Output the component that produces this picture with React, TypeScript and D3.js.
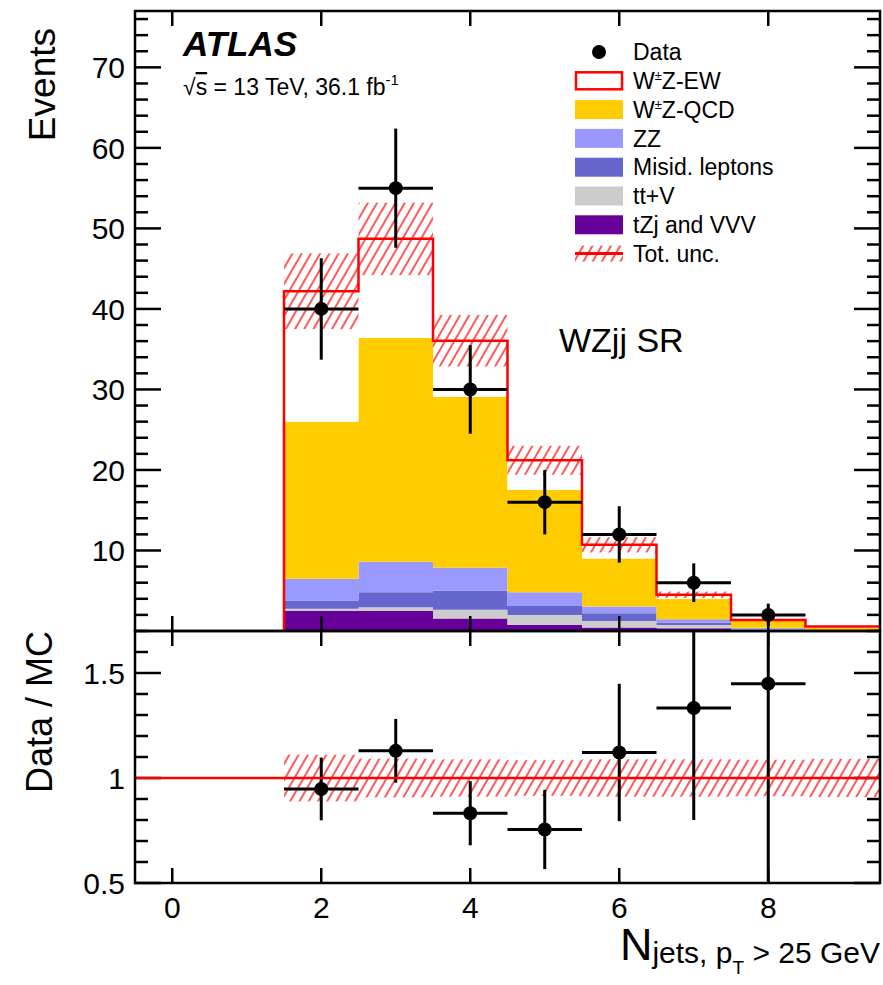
import React from "react";
import * as d3 from "d3";

// bins of N_jets (width 1), centres
const binCenters = [2, 3, 4, 5, 6, 7, 8, 9];
// stacked backgrounds, bottom -> top
const tZjVVV = [2.5, 2.5, 1.55, 0.75, 0.45, 0.35, 0.1, 0.03];
const ttV = [0.25, 0.45, 1.1, 1.25, 0.8, 0.4, 0.12, 0.04];
const misid = [1.05, 1.85, 2.35, 1.1, 0.95, 0.3, 0.08, 0.03];
const zz = [2.7, 3.8, 2.85, 1.7, 0.85, 0.4, 0.1, 0.04];
const wzQCD = [19.5, 27.8, 21.2, 12.7, 5.95, 2.55, 0.85, 0.26];
const wzEW = [16.2, 12.3, 7.0, 3.7, 1.7, 0.5, 0.13, 0.15];
const totUnc = [4.7, 4.5, 3.2, 1.8, 0.95, 0.4, 0.12, 0.05];

// data
const dataX = [2, 3, 4, 5, 6, 7, 8];
const dataY = [40, 55, 30, 16, 12, 6, 2];
const dataErr = [6.3, 7.4, 5.5, 4.0, 3.5, 2.4, 1.4];

// ticks
const topYTicks = [10, 20, 30, 40, 50, 60, 70];
const ratioYTicks = [0.5, 1, 1.5];
const xTicks = [0, 2, 4, 6, 8];

const keys = ["tZjVVV", "ttV", "misid", "zz", "wzQCD", "wzEW"];
const colors: Record<string, string> = {
  tZjVVV: "#660099",
  ttV: "#cccccc",
  misid: "#6666cc",
  zz: "#9999ff",
  wzQCD: "#ffcc00",
  wzEW: "#ffffff",
};

const FONT = "'Liberation Sans', Arial, Helvetica, sans-serif";
const W = 883, H = 985;
const L = 135, R = 880, T = 11, MID = 631, B = 883;

export default function App() {
  const x = d3.scaleLinear().domain([-0.5, 9.5]).range([L, R]);
  const y = d3.scaleLinear().domain([0, 77]).range([MID, T]);
  const yr = d3.scaleLinear().domain([0.5, 1.7]).range([B, MID]);

  const rows = binCenters.map((c, i) => ({
    c,
    tZjVVV: tZjVVV[i],
    ttV: ttV[i],
    misid: misid[i],
    zz: zz[i],
    wzQCD: wzQCD[i],
    wzEW: wzEW[i],
  }));
  const series = d3.stack<any>().keys(keys)(rows);
  const total = rows.map((_, i) => series[series.length - 1][i][1]);

  const area = d3
    .area<number[]>()
    .x((d) => x(d[0]))
    .y0((d) => y(d[1]))
    .y1((d) => y(d[2]));
  const stepPts = (lo: number[], hi: number[]) =>
    binCenters.flatMap((c, i) => [
      [c - 0.5, lo[i], hi[i]],
      [c + 0.5, lo[i], hi[i]],
    ]);

  const outline = d3
    .line<number[]>()
    .x((d) => x(d[0]))
    .y((d) => y(d[1]))([
    [binCenters[0] - 0.5, 0],
    ...binCenters.flatMap((c, i) => [
      [c - 0.5, total[i]],
      [c + 0.5, total[i]],
    ]),
  ]);

  const yMinor = d3.range(2, 77, 2).filter((v) => v % 10 !== 0);
  const rMinor = d3.range(5, 18).map((v) => v / 10).filter((v) => Math.round(v * 10) % 5 !== 0);

  const legend = [
    { label: "Data", kind: "data" },
    { label: "W±Z-EW", kind: "ew" },
    { label: "W±Z-QCD", kind: "box", color: colors.wzQCD },
    { label: "ZZ", kind: "box", color: colors.zz },
    { label: "Misid. leptons", kind: "box", color: colors.misid },
    { label: "tt+V", kind: "box", color: colors.ttV },
    { label: "tZj and VVV", kind: "box", color: colors.tZjVVV },
    { label: "Tot. unc.", kind: "unc" },
  ];

  const tk = { stroke: "#000", strokeWidth: 2.5 };

  return (
    <div style={{ position: "absolute", left: 0, top: 0 }}>
      <svg width={W} height={H} style={{ display: "block", fontFamily: FONT }}>
        <defs>
          <pattern id="hatch" patternUnits="userSpaceOnUse" width="8" height="8" patternTransform="rotate(30)">
            <line x1="4" y1="0" x2="4" y2="8" stroke="#ff0000" strokeWidth="1.3" />
          </pattern>
          <clipPath id="ratioClip">
            <rect x={L} y={MID} width={R - L} height={B - MID} />
          </clipPath>
        </defs>
        <rect width={W} height={H} fill="#fff" />

        {/* stacked histograms */}
        {series.map((s) => (
          <path
            key={s.key}
            d={area(stepPts(s.map((d) => d[0]), s.map((d) => d[1]))) || ""}
            fill={colors[s.key]}
          />
        ))}
        {/* uncertainty band */}
        {binCenters.map((c, i) => (
          <rect
            key={"u" + c}
            x={x(c - 0.5)}
            y={y(total[i] + totUnc[i])}
            width={x(c + 0.5) - x(c - 0.5)}
            height={y(total[i] - totUnc[i]) - y(total[i] + totUnc[i])}
            fill="url(#hatch)"
          />
        ))}
        <path d={outline || ""} fill="none" stroke="#ff0000" strokeWidth={2.5} />

        {/* data */}
        {dataX.map((c, i) => (
          <g key={"d" + c}>
            <line x1={x(c - 0.5)} x2={x(c + 0.5)} y1={y(dataY[i])} y2={y(dataY[i])} stroke="#000" strokeWidth={3} />
            <line x1={x(c)} x2={x(c)} y1={y(dataY[i] - dataErr[i])} y2={y(dataY[i] + dataErr[i])} stroke="#000" strokeWidth={3} />
            <circle cx={x(c)} cy={y(dataY[i])} r={7} fill="#000" />
          </g>
        ))}

        {/* ratio panel */}
        <g clipPath="url(#ratioClip)">
          {binCenters.map((c, i) => (
            <rect
              key={"ru" + c}
              x={x(c - 0.5)}
              y={yr(1 + totUnc[i] / total[i])}
              width={x(c + 0.5) - x(c - 0.5)}
              height={yr(1 - totUnc[i] / total[i]) - yr(1 + totUnc[i] / total[i])}
              fill="url(#hatch)"
            />
          ))}
          {dataX.map((c, i) => {
            const tot = total[binCenters.indexOf(c)];
            const r = dataY[i] / tot;
            const e = dataErr[i] / tot;
            return (
              <g key={"r" + c}>
                <line x1={x(c - 0.5)} x2={x(c + 0.5)} y1={yr(r)} y2={yr(r)} stroke="#000" strokeWidth={3} />
                <line x1={x(c)} x2={x(c)} y1={yr(r - e)} y2={yr(r + e)} stroke="#000" strokeWidth={3} />
                <circle cx={x(c)} cy={yr(r)} r={7} fill="#000" />
              </g>
            );
          })}
        </g>

        {/* ticks */}
        {topYTicks.map((v) => (
          <g key={"ty" + v}>
            <line x1={L} x2={L + 26} y1={y(v)} y2={y(v)} {...tk} />
            <line x1={R - 26} x2={R} y1={y(v)} y2={y(v)} {...tk} />
            <text x={125} y={y(v)} dy="0.36em" textAnchor="end" fontSize={30}>{v}</text>
          </g>
        ))}
        {yMinor.map((v) => (
          <g key={"tym" + v}>
            <line x1={L} x2={L + 13} y1={y(v)} y2={y(v)} {...tk} />
            <line x1={R - 13} x2={R} y1={y(v)} y2={y(v)} {...tk} />
          </g>
        ))}
        {ratioYTicks.map((v) => (
          <g key={"ry" + v}>
            <line x1={L} x2={L + 26} y1={yr(v)} y2={yr(v)} {...tk} />
            <line x1={R - 26} x2={R} y1={yr(v)} y2={yr(v)} {...tk} />
            <text x={125} y={yr(v)} dy="0.36em" textAnchor="end" fontSize={30}>{v}</text>
          </g>
        ))}
        {rMinor.map((v) => (
          <g key={"rym" + v}>
            <line x1={L} x2={L + 13} y1={yr(v)} y2={yr(v)} {...tk} />
            <line x1={R - 13} x2={R} y1={yr(v)} y2={yr(v)} {...tk} />
          </g>
        ))}
        {xTicks.map((v) => (
          <g key={"x" + v}>
            <line x1={x(v)} x2={x(v)} y1={T} y2={T + 15} {...tk} />
            <line x1={x(v)} x2={x(v)} y1={MID - 15} y2={MID + 15} {...tk} />
            <line x1={x(v)} x2={x(v)} y1={B - 15} y2={B} {...tk} />
            <text x={x(v)} y={918} textAnchor="middle" fontSize={30}>{v}</text>
          </g>
        ))}

        {/* ratio reference line */}
        <line x1={L} x2={R} y1={yr(1)} y2={yr(1)} stroke="#ff0000" strokeWidth={2.5} />

        {/* frames */}
        <rect x={L} y={T} width={R - L} height={MID - T} fill="none" stroke="#000" strokeWidth={2.5} />
        <rect x={L} y={MID} width={R - L} height={B - MID} fill="none" stroke="#000" strokeWidth={2.5} />

        {/* axis titles */}
        <text transform="translate(55,28) rotate(-90)" textAnchor="end" fontSize={37}>Events</text>
        <text transform="translate(52,631) rotate(-90)" textAnchor="end" fontSize={36}>Data / MC</text>
        <text x={R} y={960} textAnchor="end">
          <tspan fontSize={45}>N</tspan>
          <tspan fontSize={30} dy={3}>jets, p</tspan>
          <tspan fontSize={19} dy={11}>T</tspan>
          <tspan fontSize={30} dy={-11}> &gt; 25 GeV</tspan>
        </text>

        {/* labels */}
        <text x={183} y={56} fontSize={35} fontWeight="bold" fontStyle="italic">ATLAS</text>
        <text x={183} y={95} fontSize={23}>
          √<tspan style={{ textDecoration: "overline" }}>s</tspan> = 13 TeV, 36.1 fb
          <tspan fontSize={15} dy={-10}>-1</tspan>
        </text>
        <text x={559} y={352} fontSize={34}>WZjj SR</text>

        {/* legend */}
        {legend.map((e, i) => {
          const cy = 52 + i * 28.8;
          const isW = e.label.startsWith("W±");
          return (
            <g key={e.label}>
              {e.kind === "data" && <circle cx={599} cy={cy} r={7} fill="#000" />}
              {e.kind === "box" && <rect x={575} y={cy - 9.5} width={48} height={19} fill={e.color} />}
              {e.kind === "ew" && (
                <rect x={576} y={cy - 8.5} width={46} height={17} fill="#fff" stroke="#ff0000" strokeWidth={2.5} />
              )}
              {e.kind === "unc" && (
                <g>
                  <rect x={575} y={cy - 8} width={48} height={16} fill="url(#hatch)" />
                  <line x1={575} x2={623} y1={cy} y2={cy} stroke="#ff0000" strokeWidth={3} />
                </g>
              )}
              {isW ? (
                <text x={633} y={cy} dy="0.36em" fontSize={23}>
                  W<tspan fontSize={13} dy={-9}>±</tspan>
                  <tspan dy={9}>{e.label.slice(2)}</tspan>
                </text>
              ) : (
                <text x={633} y={cy} dy="0.36em" fontSize={23}>{e.label}</text>
              )}
            </g>
          );
        })}
      </svg>
    </div>
  );
}
